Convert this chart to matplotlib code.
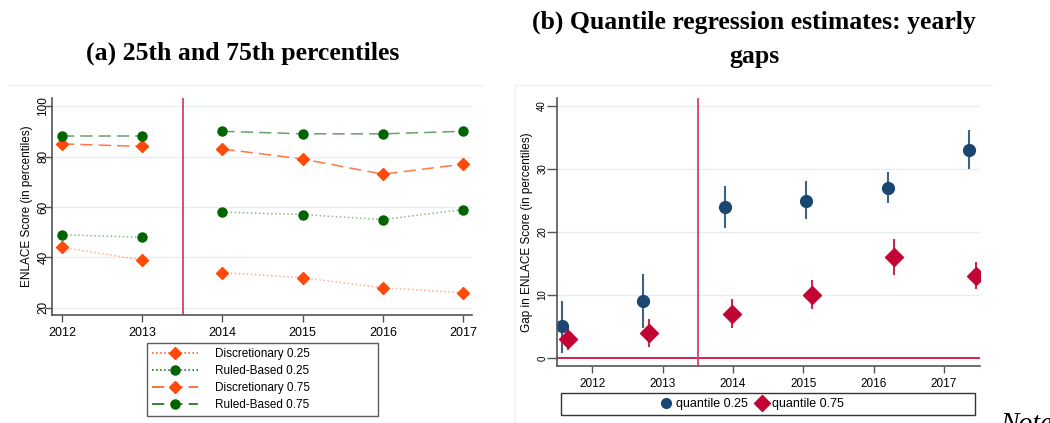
import numpy as np
import matplotlib
matplotlib.use('Agg')
import matplotlib.pyplot as plt
from matplotlib.lines import Line2D
from matplotlib.patches import Rectangle

plt.rcParams['font.family'] = ['Liberation Sans', 'DejaVu Sans']

years = [2012, 2013, 2014, 2015, 2016, 2017]

# panel (a): percentiles by group
disc_25 = [44, 39, 34, 32, 28, 26]
rule_25 = [49, 48, 58, 57, 55, 59]
disc_75 = [85, 84, 83, 79, 73, 77]
rule_75 = [88, 88, 90, 89, 89, 90]

# panel (b): quantile regression gaps with confidence intervals
q25_x = [2011.57, 2012.72, 2013.89, 2015.04, 2016.20, 2017.36]
q25 = [5, 9, 24, 25, 27, 33]
q25_lo = [0.8, 4.8, 20.7, 22.1, 24.6, 30.0]
q25_hi = [9.1, 13.3, 27.3, 28.1, 29.5, 36.2]
q75_x = [2011.66, 2012.81, 2013.98, 2015.13, 2016.29, 2017.45]
q75 = [3, 4, 7, 10, 16, 13]
q75_lo = [1.3, 1.8, 4.8, 7.7, 13.1, 10.9]
q75_hi = [4.8, 6.2, 9.4, 12.4, 18.9, 15.2]

W, H = 1050, 423
fig = plt.figure(figsize=(W / 100, H / 100), dpi=100)

def px(x0, y0, x1, y1):
    return [x0 / W, 1 - y1 / H, (x1 - x0) / W, (y1 - y0) / H]

orange = '#ff4a0a'
green = '#006400'
navy = '#1a476f'
cranb = '#c10534'
vcol = '#d8406a'
grid = '#e6eef2'
spine = '#555555'

def style_axes(ax, xsize, ysize, ylen, ypad):
    for s in ['top', 'right']:
        ax.spines[s].set_visible(False)
    for s in ['left', 'bottom']:
        ax.spines[s].set_color(spine)
        ax.spines[s].set_linewidth(1.2)
    ax.tick_params(direction='out', width=1, color=spine)
    ax.tick_params(axis='x', length=5, labelsize=xsize)
    ax.tick_params(axis='y', length=ylen, labelsize=ysize, pad=ypad)
    ax.grid(axis='y', color=grid, linewidth=1)
    ax.set_axisbelow(True)
    for t in ax.get_yticklabels():
        t.set_rotation(90)
        t.set_va('center')

# faint graph region outlines
fig.add_artist(Line2D([8 / W, 483 / W], [1 - 85 / H] * 2, color='#eef3f6', lw=1))
fig.add_artist(Line2D([515 / W, 993 / W], [1 - 85 / H] * 2, color='#eef3f6', lw=1))
fig.add_artist(Line2D([515 / W] * 2, [1 - 85 / H, 0], color='#eef3f6', lw=1))

# ---- panel (a)
ax1 = fig.add_axes(px(52, 98, 472, 315))
yr = np.array(years)
series = [
    (disc_25, orange, 'D', ':', 'Discretionary 0.25', 0.45),
    (rule_25, green, 'o', ':', 'Ruled-Based 0.25', 0.45),
    (disc_75, orange, 'D', (0, (8, 4)), 'Discretionary 0.75', 0.75),
    (rule_75, green, 'o', (0, (8, 4)), 'Ruled-Based 0.75', 0.6),
]
handles = []
for vals, c, m, ls, lab, a in series:
    v = np.array(vals, dtype=float)
    for sl in [slice(0, 2), slice(2, 6)]:
        ax1.plot(yr[sl], v[sl], color=c, ls=ls, lw=1.1, alpha=a)
        ax1.plot(yr[sl], v[sl], color=c, ls='none', marker=m, ms=6 if m == 'D' else 6.5)
    handles.append(Line2D([], [], color=c, ls=ls, lw=1.1, marker=m,
                          ms=6 if m == 'D' else 6.5, markerfacecolor=c,
                          markeredgecolor=c))
ax1.axvline(2013.51, color=vcol, lw=1.3)
ax1.set_xlim(2011.875, 2017.11)
ax1.set_ylim(17.2, 103.2)
ax1.set_xticks(years)
ax1.set_yticks([20, 40, 60, 80, 100])
ax1.set_ylabel('ENLACE Score (in percentiles)', fontsize=8.5)
ax1.yaxis.set_label_coords(-19 / 420, 0.5)
style_axes(ax1, 9, 8.5, 5, -3)

leg1 = fig.legend(handles=handles, labels=[s[4] for s in series],
                  loc='upper left',
                  bbox_to_anchor=(147 / W, 1 - 343 / H - 0.01, 231 / W, 0.01),
                  mode='expand', frameon=True, fancybox=False, fontsize=8.5,
                  handlelength=3.9, handletextpad=1.4, borderpad=0.45,
                  labelspacing=0.42, borderaxespad=0)
leg1.get_frame().set_edgecolor('#333333')
leg1.get_frame().set_linewidth(1.0)

# ---- panel (b)
ax2 = fig.add_axes(px(557, 98, 980, 366))
ax2.vlines(q25_x, q25_lo, q25_hi, color=navy, lw=1.5, alpha=0.85)
ax2.vlines(q75_x, q75_lo, q75_hi, color=cranb, lw=1.5, alpha=0.85)
ax2.plot(q25_x, q25, 'o', color=navy, ms=8.5, label='quantile 0.25')
ax2.plot(q75_x, q75, 'D', color=cranb, ms=9.5, label='quantile 0.75')
ax2.axhline(0, color=cranb, lw=1.2)
ax2.axvline(2013.5, color=vcol, lw=1.3)
ax2.set_xlim(2011.5, 2017.51)
ax2.set_ylim(-1.27, 41.27)
ax2.set_xticks(years)
ax2.set_yticks([0, 10, 20, 30, 40])
ax2.set_ylabel('Gap in ENLACE Score (in percentiles)', fontsize=8.5)
ax2.yaxis.set_label_coords(-24 / 423, 0.5)
style_axes(ax2, 8.5, 7, 7, 0)

# legend box for panel (b), items centred inside
fig.add_artist(Rectangle((561 / W, 1 - 415 / H), 414 / W, 22 / H,
                         transform=fig.transFigure, fill=False,
                         edgecolor='#333333', lw=1.0))
h2, l2 = ax2.get_legend_handles_labels()
h2 = [Line2D([], [], ls='none', marker='o', ms=7, color=navy),
      Line2D([], [], ls='none', marker='D', ms=8, color=cranb)]
fig.legend(h2, l2, loc='center', bbox_to_anchor=(752 / W, 1 - 404 / H), ncol=2,
           frameon=False, fontsize=9, handlelength=1, handletextpad=0.3,
           columnspacing=0.6, borderpad=0, borderaxespad=0)

# captions
serif = ['Liberation Serif', 'DejaVu Serif']
fig.text(243 / W, 1 - 53 / H, '(a) 25th and 75th percentiles', ha='center',
         va='center', fontsize=18.5, fontweight='bold', family=serif)
fig.text(754 / W, 1 - 22 / H, '(b) Quantile regression estimates: yearly',
         ha='center', va='center', fontsize=18.5, fontweight='bold', family=serif)
fig.text(754 / W, 1 - 56 / H, 'gaps', ha='center', va='center', fontsize=18.5,
         fontweight='bold', family=serif)
fig.text(1000 / W, -8 / H, 'Note', ha='left', va='baseline', fontsize=20,
         style='italic', family=serif)

fig.savefig('out.png', dpi=100)
